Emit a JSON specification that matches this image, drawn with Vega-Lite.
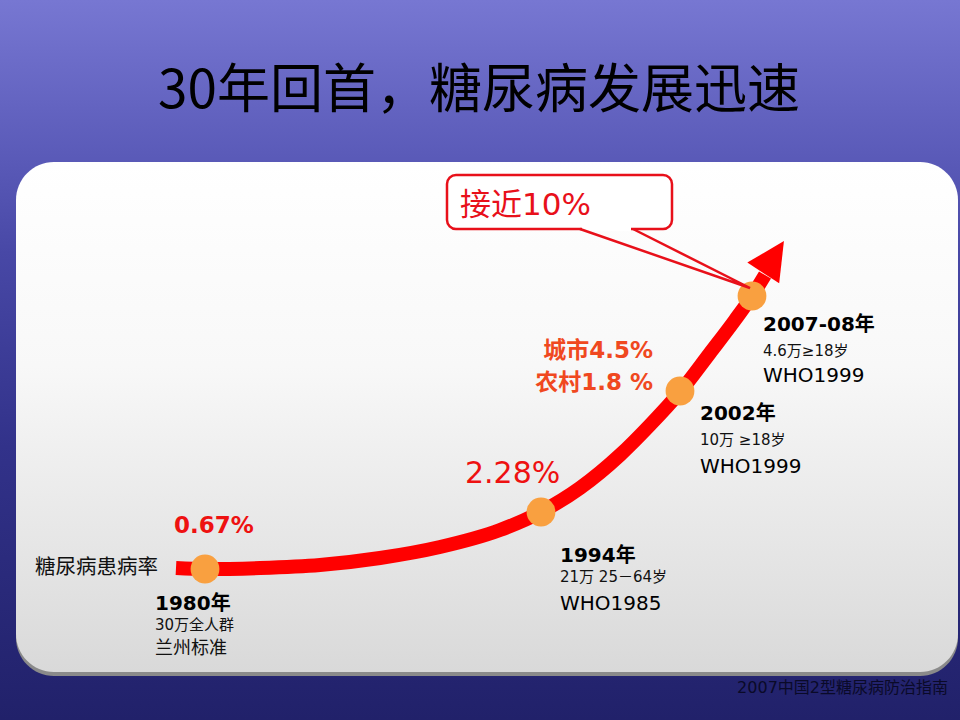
{
  "$schema": "https://vega.github.io/schema/vega-lite/v6.json",
  "width": 960,
  "height": 720,
  "autosize": {"type": "fit", "contains": "padding"},
  "padding": 0,
  "background": "#22226a",
  "config": {"view": {"stroke": null}},
  "datasets": {
    "bg": [{"x": 0, "x2": 960, "y": 0, "y2": 720}],
    "shadow": [{"x": 16, "x2": 958, "y": 167, "y2": 676}],
    "panel": [{"x": 16, "x2": 958, "y": 162, "y2": 672}],
    "curve": [
      {"x": 176, "y": 568}, {"x": 205, "y": 569}, {"x": 260, "y": 568}, {"x": 320, "y": 565},
      {"x": 380, "y": 558}, {"x": 440, "y": 547}, {"x": 500, "y": 530}, {"x": 541, "y": 512},
      {"x": 580, "y": 488}, {"x": 620, "y": 455}, {"x": 650, "y": 425}, {"x": 680, "y": 392},
      {"x": 710, "y": 353}, {"x": 735, "y": 320}, {"x": 752, "y": 296}, {"x": 765, "y": 275}
    ],
    "arrowhead": [{"x": 771, "y": 261}],
    "dots": [{"x": 205, "y": 569}, {"x": 541, "y": 512}, {"x": 680, "y": 391}, {"x": 752, "y": 296}],
    "callbox": [{"x": 447, "x2": 672, "y": 175, "y2": 229}],
    "cover": [{"x": 582, "x2": 631, "y": 229}],
    "pointer": [{"x": 580, "y": 229, "o": 1}, {"x": 750, "y": 288, "o": 2}, {"x": 633, "y": 229, "o": 3}],
    "title": [{"x": 479, "y": 108, "t": "30年回首，糖尿病发展迅速"}],
    "axislabel": [{"x": 35, "y": 568, "t": "糖尿病患病率"}],
    "callout": [{"x": 460, "y": 215, "t": "接近10%"}],
    "redbold": [{"x": 174, "y": 533, "t": "0.67%"}],
    "redreg": [{"x": 465, "y": 483, "t": "2.28%"}],
    "years": [
      {"x": 155, "y": 610, "t": "1980年"},
      {"x": 560, "y": 562, "t": "1994年"},
      {"x": 700, "y": 420, "t": "2002年"},
      {"x": 763, "y": 331, "t": "2007-08年"}
    ],
    "small": [
      {"x": 155, "y": 625, "t": "30万全人群"},
      {"x": 560, "y": 577, "t": "21万 25－64岁"},
      {"x": 700, "y": 440, "t": "10万 ≥18岁"},
      {"x": 763, "y": 351, "t": "4.6万≥18岁"}
    ],
    "lanzhou": [{"x": 155, "y": 649, "t": "兰州标准"}],
    "who": [
      {"x": 560, "y": 610, "t": "WHO1985"},
      {"x": 700, "y": 473, "t": "WHO1999"},
      {"x": 763, "y": 382, "t": "WHO1999"}
    ],
    "urban": [
      {"x": 653, "y": 358, "t": "城市4.5%"},
      {"x": 653, "y": 390, "t": "农村1.8 %"}
    ],
    "source": [{"x": 948, "y": 688, "t": "2007中国2型糖尿病防治指南"}]
  },
  "encoding": {
    "x": {"field": "x", "type": "quantitative", "scale": {"domain": [0, 960], "nice": false, "zero": false}, "axis": null},
    "y": {"field": "y", "type": "quantitative", "scale": {"domain": [0, 720], "nice": false, "zero": false, "reverse": true}, "axis": null}
  },
  "layer": [
    {
      "data": {"name": "bg"},
      "mark": {"type": "rect", "fill": {"gradient": "linear", "x1": 0, "y1": 0, "x2": 0, "y2": 1,
        "stops": [
          {"offset": 0, "color": "#7777d2"},
          {"offset": 0.22, "color": "#5a5ab8"},
          {"offset": 0.35, "color": "#4848a6"},
          {"offset": 0.62, "color": "#32328a"},
          {"offset": 1, "color": "#21216a"}
        ]}},
      "encoding": {"x2": {"field": "x2"}, "y2": {"field": "y2"}}
    },
    {
      "data": {"name": "shadow"},
      "mark": {"type": "rect", "fill": "#8a8a8a", "cornerRadius": 38},
      "encoding": {"x2": {"field": "x2"}, "y2": {"field": "y2"}}
    },
    {
      "data": {"name": "panel"},
      "mark": {"type": "rect", "cornerRadius": 38, "fill": {"gradient": "linear", "x1": 0, "y1": 0, "x2": 0, "y2": 1,
        "stops": [
          {"offset": 0, "color": "#ffffff"},
          {"offset": 0.4, "color": "#f8f8f8"},
          {"offset": 1, "color": "#d9d9d9"}
        ]}},
      "encoding": {"x2": {"field": "x2"}, "y2": {"field": "y2"}}
    },
    {
      "data": {"name": "curve"},
      "mark": {"type": "line", "color": "#ff0000", "strokeWidth": 14, "interpolate": "monotone", "strokeCap": "butt"},
      "encoding": {}
    },
    {
      "data": {"name": "arrowhead"},
      "mark": {"type": "point", "shape": "M0,-1L0.8,0.6L-0.8,0.6Z", "filled": true, "size": 2256, "angle": 33, "color": "#ff0000", "opacity": 1}
    },
    {
      "data": {"name": "dots"},
      "mark": {"type": "point", "shape": "circle", "filled": true, "size": 830, "color": "#f9a040", "opacity": 1}
    },
    {
      "data": {"name": "callbox"},
      "mark": {"type": "rect", "fill": "#ffffff", "stroke": "#e8101a", "strokeWidth": 2.5, "cornerRadius": 9},
      "encoding": {"x2": {"field": "x2"}, "y2": {"field": "y2"}}
    },
    {
      "data": {"name": "cover"},
      "mark": {"type": "rule", "color": "#ffffff", "strokeWidth": 4},
      "encoding": {"x2": {"field": "x2"}}
    },
    {
      "data": {"name": "pointer"},
      "mark": {"type": "line", "color": "#e8101a", "strokeWidth": 2.5, "strokeJoin": "miter"},
      "encoding": {"order": {"field": "o", "type": "quantitative"}}
    },
    {
      "data": {"name": "title"},
      "mark": {"type": "text", "align": "center", "baseline": "alphabetic", "font": "Noto Sans CJK SC", "fontSize": 53, "color": "#000000"},
      "encoding": {"text": {"field": "t"}}
    },
    {
      "data": {"name": "axislabel"},
      "mark": {"type": "text", "align": "left", "baseline": "middle", "font": "Noto Sans CJK SC", "fontSize": 20.5, "color": "#111111"},
      "encoding": {"text": {"field": "t"}}
    },
    {
      "data": {"name": "callout"},
      "mark": {"type": "text", "align": "left", "baseline": "alphabetic", "font": "DejaVu Sans, Noto Sans CJK SC", "fontSize": 31, "color": "#e8101a"},
      "encoding": {"text": {"field": "t"}}
    },
    {
      "data": {"name": "redbold"},
      "mark": {"type": "text", "align": "left", "baseline": "alphabetic", "font": "DejaVu Sans", "fontWeight": "bold", "fontSize": 23, "color": "#ee1111"},
      "encoding": {"text": {"field": "t"}}
    },
    {
      "data": {"name": "redreg"},
      "mark": {"type": "text", "align": "left", "baseline": "alphabetic", "font": "DejaVu Sans", "fontSize": 30, "color": "#ee1111"},
      "encoding": {"text": {"field": "t"}}
    },
    {
      "data": {"name": "years"},
      "mark": {"type": "text", "align": "left", "baseline": "alphabetic", "font": "DejaVu Sans, Noto Sans CJK SC", "fontWeight": "bold", "fontSize": 20, "color": "#000000"},
      "encoding": {"text": {"field": "t"}}
    },
    {
      "data": {"name": "small"},
      "mark": {"type": "text", "align": "left", "baseline": "middle", "font": "DejaVu Sans, Noto Sans CJK SC", "fontSize": 15, "color": "#111111"},
      "encoding": {"text": {"field": "t"}}
    },
    {
      "data": {"name": "lanzhou"},
      "mark": {"type": "text", "align": "left", "baseline": "middle", "font": "Noto Sans CJK SC", "fontSize": 18, "color": "#111111"},
      "encoding": {"text": {"field": "t"}}
    },
    {
      "data": {"name": "who"},
      "mark": {"type": "text", "align": "left", "baseline": "alphabetic", "font": "DejaVu Sans", "fontSize": 20, "color": "#000000"},
      "encoding": {"text": {"field": "t"}}
    },
    {
      "data": {"name": "urban"},
      "mark": {"type": "text", "align": "right", "baseline": "alphabetic", "font": "DejaVu Sans, Noto Sans CJK SC", "fontWeight": "bold", "fontSize": 23, "color": "#f04820"},
      "encoding": {"text": {"field": "t"}}
    },
    {
      "data": {"name": "source"},
      "mark": {"type": "text", "align": "right", "baseline": "middle", "font": "DejaVu Sans, Noto Sans CJK SC", "fontSize": 16, "color": "#0a0a28"},
      "encoding": {"text": {"field": "t"}}
    }
  ]
}
